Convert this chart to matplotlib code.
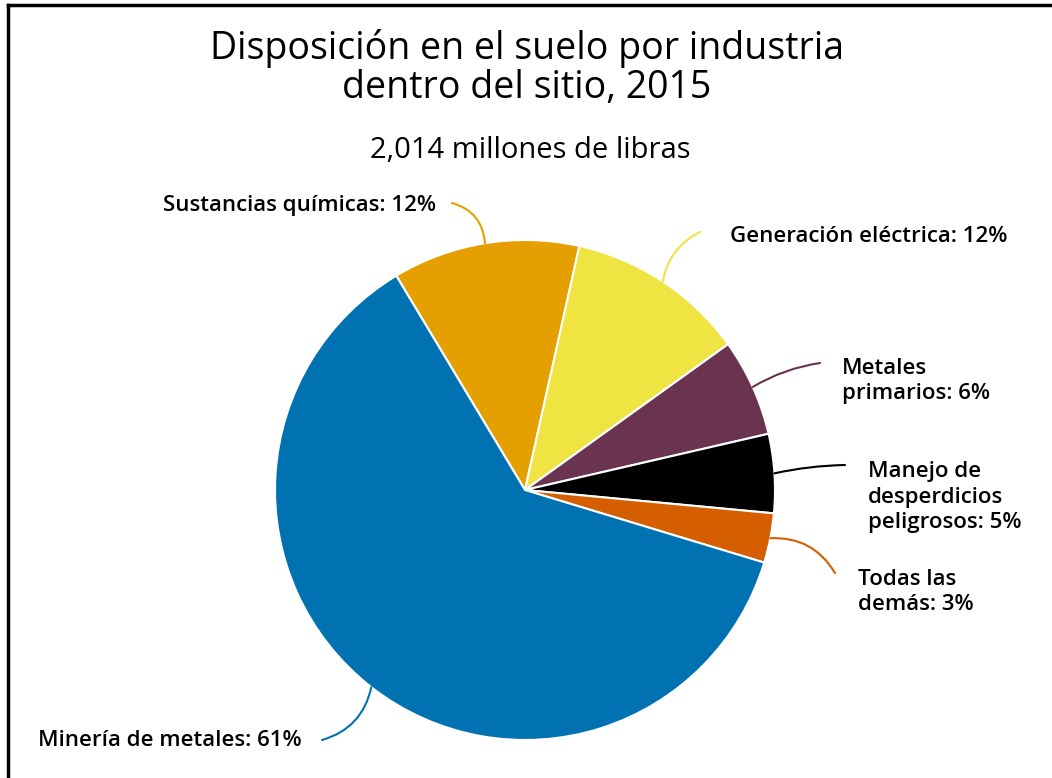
import numpy as np
import matplotlib.pyplot as plt
from matplotlib.lines import Line2D

# =========================================
# Datos
# =========================================

categorias = [
    "Sustancias químicas: 12%",
    "Generación eléctrica: 12%",
    "Metales\nprimarios: 6%",
    "Manejo de\ndesperdicios\npeligrosos: 5%",
    "Todas las\ndemás: 3%",
    "Minería de metales: 61%",
]
porcentajes = [12.1, 11.6, 6.3, 5.1, 3.2, 61.7]
colores = ["#E69F00", "#F0E442", "#6A3350", "#000000", "#D55E00", "#0072B2"]

# =========================================
# Figura
# =========================================

W, H = 1052, 778
fig = plt.figure(figsize=(W / 100, H / 100), dpi=100)
ax = fig.add_axes([0, 0, 1, 1])

cx, cy, r = 525, H - 490, 250

wedges, _ = ax.pie(
    porcentajes,
    colors=colores,
    startangle=121,
    counterclock=False,
    center=(cx, cy),
    radius=r,
    frame=True,
    wedgeprops=dict(edgecolor="white", linewidth=1.5),
)
ax.set_xlim(0, W)
ax.set_ylim(0, H)
ax.axis("off")

# =========================================
# Etiquetas
# =========================================

# texto (x, y centro), inicio de la línea (x, y), curvatura
pos_texto = [
    (163, 205, 452, 203, -0.35),
    (730, 236, 700, 232, 0.25),
    (842, 381, 820, 363, 0.1),
    (868, 497, 845, 465, 0.05),
    (858, 592, 835, 573, 0.3),
    (38, 740, 322, 740, 0.3),
]

fuente = dict(family="Open Sans", weight="semibold", size=16)

for w, c, lab, (tx, ty, lx, ly, rad) in zip(wedges, colores, categorias, pos_texto):
    ang = np.deg2rad((w.theta1 + w.theta2) / 2)
    ex = cx + r * np.cos(ang)
    ey = cy + r * np.sin(ang)
    ax.text(tx, H - ty, lab, ha="left", va="center", linespacing=1.3,
            color="black", **fuente)
    ax.annotate("", xy=(ex, ey), xytext=(lx, H - ly),
                arrowprops=dict(arrowstyle="-", color=c, lw=1.5,
                                shrinkA=0, shrinkB=0,
                                connectionstyle=f"arc3,rad={rad}"))

# =========================================
# Títulos
# =========================================

fig.text(527 / W, 1 - 68 / H, "Disposición en el suelo por industria\ndentro del sitio, 2015",
         ha="center", va="center", family="Open Sans", size=27, linespacing=1.05)
fig.text(530 / W, 1 - 151 / H, "2,014 millones de libras",
         ha="center", va="center", family="Open Sans", size=21)

# marco
fig.add_artist(Line2D([8 / W, 1], [1 - 5 / H, 1 - 5 / H], color="black", lw=2.5))
fig.add_artist(Line2D([8 / W, 8 / W], [0, 1 - 5 / H], color="black", lw=2.5))

fig.savefig("out.png", dpi=100)
